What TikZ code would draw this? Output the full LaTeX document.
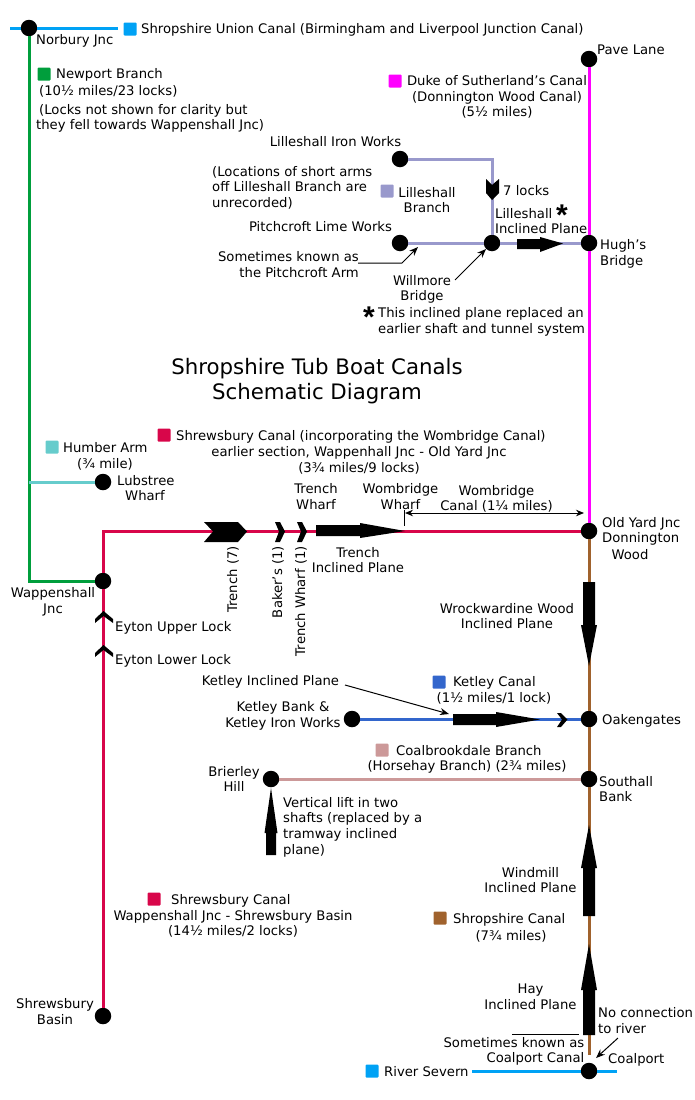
\documentclass[tikz,border=0pt]{standalone}
\usepackage{fontspec}
\setmainfont{DejaVu Sans}
\newfontfamily\starfont{Liberation Sans}
\usetikzlibrary{arrows.meta,calc}
\definecolor{cblue}{HTML}{00A2F5}
\definecolor{cgreen}{HTML}{009E3C}
\definecolor{cmag}{HTML}{FF00FF}
\definecolor{clilac}{HTML}{9999CC}
\definecolor{cteal}{HTML}{66CCCC}
\definecolor{cred}{HTML}{D8064A}
\definecolor{cbrown}{HTML}{A0622D}
\definecolor{cketley}{HTML}{3366CC}
\definecolor{cpink}{HTML}{CC9999}
\newcommand{\starmark}{\raisebox{-13pt}[9pt][0pt]{*}}
\tikzset{
 x=1pt,y=-1pt,
 jn/.style={circle,fill=black,minimum size=16.5pt,inner sep=0pt},
 canal/.style={line width=3pt},
 swatch/.style={rounded corners=1pt,minimum size=13pt,inner sep=0pt},
 lb/.style={inner sep=0pt,align=center,yshift=-1pt,font=\fontsize{13.2}{15.6}\selectfont},
 ll/.style={lb,anchor=west,align=left},
 vt/.style={lb,rotate=90,anchor=east},
 ttl/.style={inner sep=0pt,align=center,yshift=-1.5pt,font=\fontsize{21.3}{25}\selectfont},
 st/.style={inner sep=0pt,font=\starfont\bfseries\fontsize{30}{30}\selectfont},
 ptr/.style={line width=1pt,-{Stealth[length=9pt,width=7pt]}},
 blk/.style={fill=black,draw=none},
}
\begin{document}
\begin{tikzpicture}
\useasboundingbox (0,0) rectangle (695,1100);
% junctions
\node[jn] (norbury) at (29,28) {};
\node[jn] (pave) at (589,59) {};
\node[jn] (ironw) at (400,159) {};
\node[jn] (pitch) at (400,243) {};
\node[jn] (lilljn) at (492,243) {};
\node[jn] (hugh) at (589,243) {};
\node[jn] (lubstree) at (103,482) {};
\node[jn] (oldyard) at (589,531) {};
\node[jn] (wapp) at (103,581) {};
\node[jn] (ketbank) at (352,719) {};
\node[jn] (oaken) at (589,719) {};
\node[jn] (brierley) at (271,779) {};
\node[jn] (southall) at (589,779) {};
\node[jn] (basin) at (103,1016) {};
\node[jn] (coalport) at (589,1071) {};
% free ends
\coordinate (nw) at (10,28);
\coordinate (ne) at (118,28);
\coordinate (humberjn) at (29,482);
\coordinate (brownend) at (589,1055);
\coordinate (sevw) at (472,1071);
\coordinate (seve) at (617,1071);
% canals
\draw[canal,cblue] (nw)--(norbury)--(ne);
\draw[canal,cgreen] (norbury) |- (wapp);
\draw[canal,cteal] (humberjn)--(lubstree);
\draw[canal,cmag] (pave)--(hugh)--(oldyard);
\draw[canal,clilac] (ironw) -| (lilljn);
\draw[canal,clilac] (pitch)--(lilljn)--(hugh);
\draw[canal,cred] (basin)--(wapp);
\draw[canal,cred] (wapp) |- (oldyard);
\draw[canal,cbrown] (oldyard)--(oaken)--(southall)--(brownend);
\draw[canal,cketley] (ketbank)--(oaken);
\draw[canal,cpink] (brierley)--(southall);
\draw[canal,cblue] (sevw)--(coalport)--(seve);
% swatches
\node[swatch,fill=cblue] (s1) at (130,29) {};
\node[swatch,fill=cgreen] (s2) at (44,74) {};
\node[swatch,fill=cmag] (s3) at (395,81) {};
\node[swatch,fill=clilac] (s4) at (387,191) {};
\node[swatch,fill=cteal] (s5) at (52,447) {};
\node[swatch,fill=cred] (s6) at (164,435) {};
\node[swatch,fill=cketley] (s7) at (439,682) {};
\node[swatch,fill=cpink] (s8) at (382,750) {};
\node[swatch,fill=cred] (s9) at (154,899) {};
\node[swatch,fill=cbrown] (s10) at (440,918) {};
\node[swatch,fill=cblue] (s11) at (372,1071) {};
% inclined planes
\fill[blk] (517,239)--(540,239)--(540,237)--(563,243.5)--(540,252)--(540,249)--(517,249)--cycle;
\fill[blk] (316,525)--(360,525)--(360,523)--(405,531)--(360,538)--(360,536)--(316,536)--cycle;
\fill[blk] (583,582)--(595,582)--(595,625)--(597,625)--(589,666)--(581,625)--(583,625)--cycle;
\fill[blk] (453,714)--(496,714)--(496,712)--(540,719.5)--(496,727)--(496,725)--(453,725)--cycle;
\fill[blk] (266,855)--(276,855)--(276,833)--(277.5,833)--(271,788)--(264.5,833)--(266,833)--cycle;
\fill[blk] (583,916)--(595,916)--(595,868)--(597,868)--(589,825)--(581,868)--(583,868)--cycle;
\fill[blk] (583,1035)--(595,1035)--(595,990)--(597,990)--(589,944)--(581,990)--(583,990)--cycle;
% locks
\fill[blk] (486,179)--(492,185)--(499,179)--(499,193)--(492,200)--(486,193)--cycle;
\fill[blk] (204,522)--(238,522)--(247,531.5)--(238,542)--(204,542)--(213,531.5)--cycle;
\fill[blk] (275,522)--(280,522)--(285,531.5)--(280,542)--(275,542)--(279,531.5)--cycle;
\fill[blk] (297,522)--(302,522)--(307,531.5)--(302,542)--(297,542)--(301,531.5)--cycle;
\fill[blk] (557,713)--(561,713)--(567.5,719.5)--(561,727)--(557,727)--(562,719.5)--cycle;
\fill[blk] (95,619)--(103.5,611)--(113,619)--(113,623)--(103.5,616)--(95,623)--cycle;
\fill[blk] (95,653)--(103.5,645)--(113,653)--(113,657)--(103.5,650)--(95,657)--cycle;
% pointers
\coordinate (pa) at (358,263);
\coordinate (pb) at (402,263);
\coordinate (pc) at (418,247);
\draw[ptr] (pa)--(pb)--(pc);
\coordinate (wa) at (455,280);
\draw[ptr] (wa)--(lilljn);
\coordinate (ka) at (345,685);
\coordinate (kb) at (449,714);
\draw[ptr] (ka)--(kb);
\coordinate (wb1) at (405,513);
\coordinate (wb2) at (584,513);
\draw[line width=1pt,{Stealth[length=8pt,width=6.5pt]}-{Stealth[length=8pt,width=6.5pt]}] (wb1)--(wb2);
\coordinate (t1) at (404,510);
\coordinate (t2) at (404,526);
\draw[line width=1pt] (t1)--(t2);
\coordinate (c1) at (512,1034.5);
\coordinate (c2) at (579,1034.5);
\draw[line width=1pt] (c1)--(c2);
\coordinate (n1) at (618,1038);
\coordinate (n2) at (596,1058);
\draw[ptr] (n1)--(n2);
% labels
\node[ll] (l1) at (141,29) {Shropshire Union Canal (Birmingham and Liverpool Junction Canal)};
\node[ll] (l2) at (36,40) {Norbury Jnc};
\node[ll] (l3) at (56,74) {Newport Branch};
\node[ll] (l4) at (39,90) {(10½ miles/23 locks)};
\node[ll] (l5) at (36,117.5) {\hspace*{3pt}(Locks not shown for clarity but\\they fell towards Wappenshall Jnc)};
\node[ll] (l6) at (597,49) {Pave Lane};
\node[lb] (l7) at (497,96) {Duke of Sutherland's Canal\\(Donnington Wood Canal)\\(5½ miles)};
\node[lb] (l8) at (335.5,141) {Lilleshall Iron Works};
\node[ll] (l9) at (212,186.5) {(Locations of short arms\\off Lilleshall Branch are\\unrecorded)};
\node[lb] (l10) at (427,199) {Lilleshall\\Branch};
\node[ll] (l11) at (503,190) {7 locks};
\node[ll] (l12) at (495,220) {Lilleshall\\Inclined Plane};
\node[lb] (l13) at (320.5,226) {Pitchcroft Lime Works};
\node[lb,align=right,anchor=east] (l14) at (359,263.5) {Sometimes known as\\the Pitchcroft Arm};
\node[ll] (l15) at (600,253) {Hugh's\\Bridge};
\node[lb] (l16) at (422,288.5) {Willmore\\Bridge};
\node[ll] (l17) at (378,321) {This inclined plane replaced an\\earlier shaft and tunnel system};
\node[st] (star1) at (562,208) {\starmark};
\node[st] (star2) at (369,310) {\starmark};
\node[ttl] (title) at (317,379.5) {Shropshire Tub Boat Canals\\Schematic Diagram};
\node[ll] (l18) at (63,447) {Humber Arm};
\node[lb] (l19) at (105,463) {(¾ mile)};
\node[ll] (l20) at (117,480) {Lubstree};
\node[lb] (l21) at (145,495) {Wharf};
\node[ll] (l22) at (176,436) {Shrewsbury Canal (incorporating the Wombridge Canal)};
\node[lb] (l23) at (359,459.5) {earlier section, Wappenhall Jnc - Old Yard Jnc\\(3¾ miles/9 locks)};
\node[lb] (l24) at (316,495.5) {Trench\\Wharf};
\node[lb] (l25) at (400.5,495.5) {Wombridge\\Wharf};
\node[lb] (l26) at (496.5,498) {Wombridge\\Canal (1¼ miles)};
\node[ll] (l27) at (602,530.5) {Old Yard Jnc\\Donnington};
\node[lb] (l28) at (630,554) {Wood};
\node[lb] (l29) at (358,559) {Trench\\Inclined Plane};
\node[vt] (l30) at (233,545) {Trench (7)};
\node[vt] (l31) at (278,545) {Baker's (1)};
\node[vt] (l32) at (301,545) {Trench Wharf (1)};
\node[lb] (l33) at (53,600.5) {Wappenshall\\Jnc};
\node[ll] (l34) at (115,627) {Eyton Upper Lock};
\node[ll] (l35) at (115,660) {Eyton Lower Lock};
\node[lb] (l36) at (507,615) {Wrockwardine Wood\\Inclined Plane};
\node[lb] (l37) at (270.5,681) {Ketley Inclined Plane};
\node[lb] (l38) at (283,715) {Ketley Bank \&\\Ketley Iron Works};
\node[ll] (l39) at (453,682) {Ketley Canal};
\node[lb] (l40) at (494,697) {(1½ miles/1 lock)};
\node[ll] (l41) at (602,720) {Oakengates};
\node[ll] (l42) at (396,750) {Coalbrookdale Branch};
\node[lb] (l43) at (467,766) {(Horsehay Branch) (2¾ miles)};
\node[lb] (l44) at (234,778) {Brierley\\Hill};
\node[ll] (l45) at (599,788) {Southall\\Bank};
\node[ll] (l46) at (283,826) {Vertical lift in two\\shafts (replaced by a\\tramway inclined\\plane)};
\node[lb] (l47) at (530.5,879) {Windmill\\Inclined Plane};
\node[ll] (l48) at (453,919) {Shropshire Canal};
\node[lb] (l49) at (511,935) {(7¾ miles)};
\node[ll] (l50) at (171,900) {Shrewsbury Canal};
\node[lb] (l51) at (233,923) {Wappenshall Jnc - Shrewsbury Basin\\(14½ miles/2 locks)};
\node[lb] (l52) at (55,1010.5) {Shrewsbury\\Basin};
\node[lb] (l53) at (530.5,995.5) {Hay\\Inclined Plane};
\node[ll] (l54) at (598,1019.5) {No connection\\to river};
\node[lb,align=right,anchor=east] (l55) at (584.5,1050.5) {Sometimes known as\\Coalport Canal};
\node[ll] (l56) at (608,1059) {Coalport};
\node[ll] (l57) at (384,1071) {River Severn};
\end{tikzpicture}
\end{document}
